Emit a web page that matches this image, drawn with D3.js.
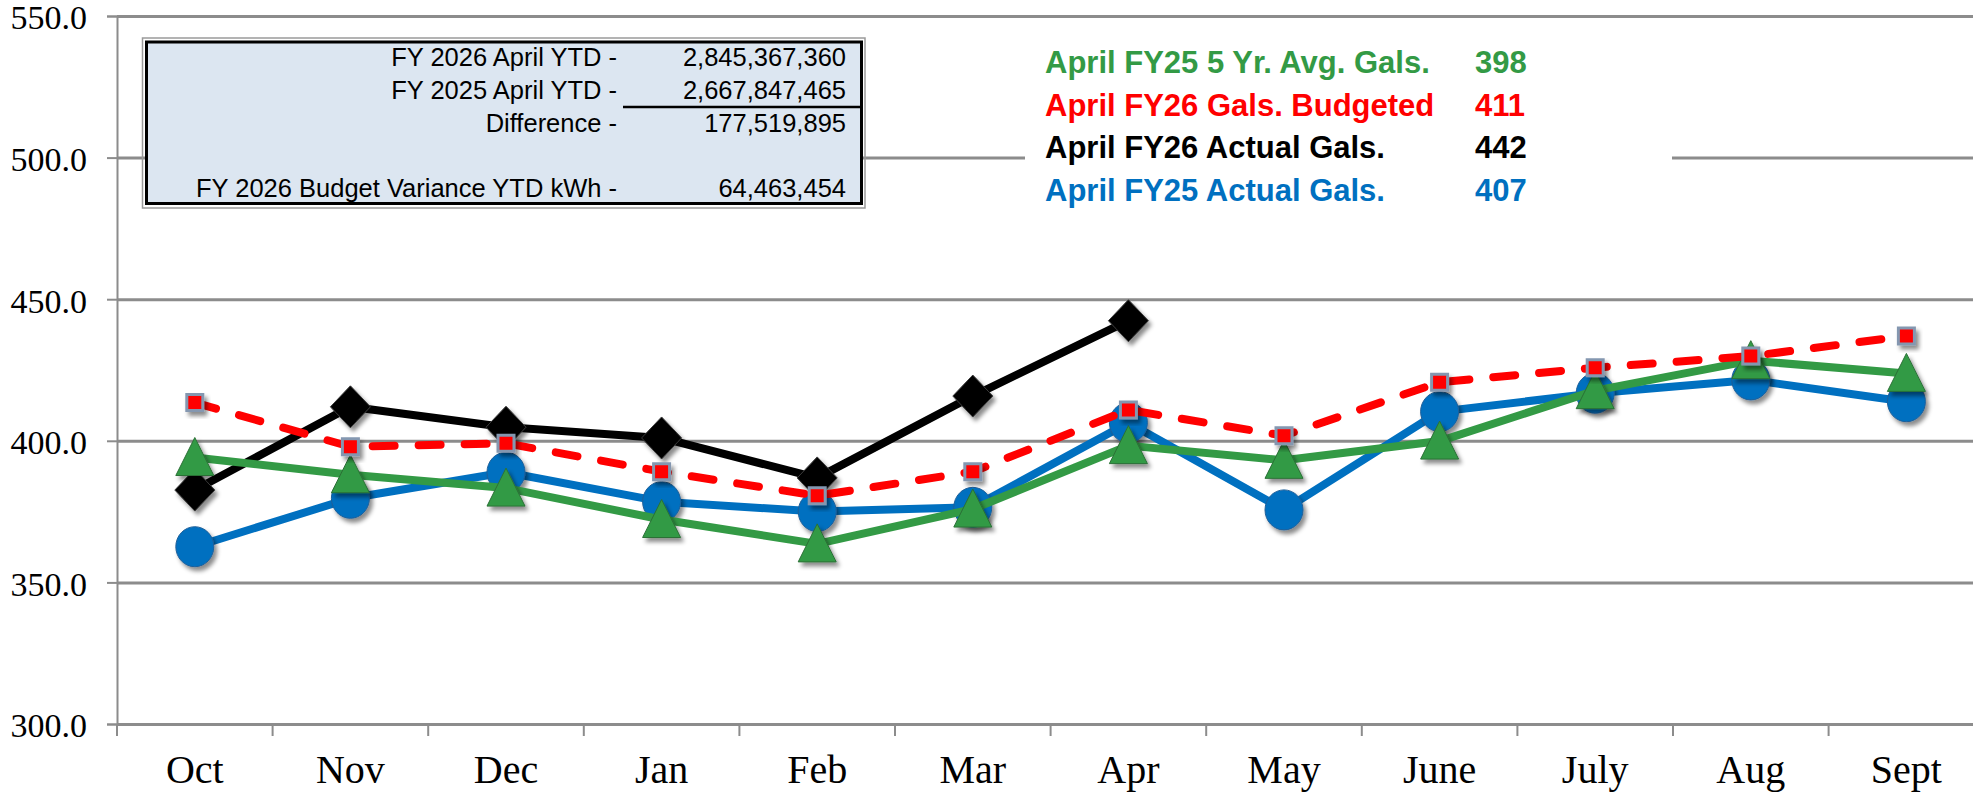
<!DOCTYPE html>
<html>
<head>
<meta charset="utf-8">
<script src="https://cdn.jsdelivr.net/npm/d3@7"></script>
<style>
    html, body { margin: 0; padding: 0; background: #fff; overflow: hidden; }
    svg { display: block; }
</style>
</head>
<body>
<div id="chart"></div>
<script>
// data
const months = ["Oct", "Nov", "Dec", "Jan", "Feb", "Mar", "Apr", "May", "June", "July", "Aug", "Sept"];
const avg5yrGals = [394.1, 388.0, 383.3, 372.2, 363.6, 375.9, 398.3, 393.1, 399.9, 417.7, 428.3, 423.8];
const budgetFY26 = [413.5, 397.9, 399.1, 389.1, 380.6, 389.1, 410.9, 401.8, 420.7, 425.8, 429.9, 437.0];
const actualFY26 = [382.6, 412.0, 404.8, 401.0, 386.9, 415.8, 442.4];
const actualFY25 = [362.6, 379.7, 388.9, 378.5, 375.0, 376.5, 406.4, 375.6, 410.3, 416.8, 421.5, 413.8];
const yTicks = [300, 350, 400, 450, 500, 550];

// YTD box rows (blank row kept as a spacer)
const boxLabels = ["FY 2026 April YTD -", "FY 2025 April YTD -", "Difference -", "", "FY 2026 Budget Variance YTD kWh -"];
const boxValues = ["2,845,367,360", "2,667,847,465", "177,519,895", "", "64,463,454"];

const legendLabels = ["April FY25 5 Yr. Avg. Gals.", "April FY26 Gals. Budgeted", "April FY26 Actual Gals.", "April FY25 Actual Gals."];
const legendValues = ["398", "411", "442", "407"];
const legendColors = ["#339a45", "#ff0000", "#000000", "#0070c0"];

const W = 1973, H = 793;
const margin = {left: 117, top: 16, bottom: 69};
const plotRight = 117 + 12 * 155.6;

const svg = d3.select("#chart").append("svg")
    .attr("width", W)
    .attr("height", H)
    .attr("viewBox", `0 0 ${W} ${H}`);

const defs = svg.append("defs");
const shadow = defs.append("filter")
    .attr("id", "shadow")
    .attr("x", "-50%").attr("y", "-50%")
    .attr("width", "200%").attr("height", "200%");
shadow.append("feDropShadow")
    .attr("dx", 3).attr("dy", 4)
    .attr("stdDeviation", 2)
    .attr("flood-color", "#000")
    .attr("flood-opacity", 0.45);

const x = d3.scaleBand()
    .domain(months)
    .range([margin.left, plotRight]);

const y = d3.scaleLinear()
    .domain([300, 550])
    .range([H - margin.bottom, margin.top]);

const cx = m => x(m) + x.bandwidth() / 2;
const serif = "'Liberation Serif', 'Times New Roman', serif";
const sans = "'Liberation Sans', Arial, sans-serif";

// gridlines
svg.append("g")
    .attr("transform", `translate(${margin.left},0)`)
    .call(d3.axisLeft(y).tickValues(yTicks).tickSize(-(W - margin.left)).tickFormat(""))
    .call(g => g.select(".domain").remove())
    .call(g => g.selectAll("line").attr("stroke", "#8c8c8c").attr("stroke-width", 3));

// y axis with labels
svg.append("g")
    .attr("transform", `translate(${margin.left},0)`)
    .call(d3.axisLeft(y).tickValues(yTicks).tickSize(10).tickPadding(20).tickFormat(d3.format(".1f")))
    .call(g => g.select(".domain").attr("stroke", "#8c8c8c").attr("stroke-width", 2))
    .call(g => g.selectAll("line").attr("stroke", "#8c8c8c").attr("stroke-width", 2))
    .call(g => g.selectAll("text")
        .attr("font-family", serif)
        .attr("font-size", 34)
        .attr("dy", "0.38em")
        .attr("fill", "#000"));

// x axis: labels at band centres, ticks at band edges
const xAxis = svg.append("g")
    .attr("transform", `translate(0,${y(300)})`)
    .call(d3.axisBottom(x).tickSize(0).tickPadding(31))
    .call(g => g.select(".domain").remove())
    .call(g => g.selectAll("text")
        .attr("font-family", serif)
        .attr("font-size", 40)
        .attr("fill", "#000"));

xAxis.selectAll("line.edge")
    .data(months)
    .enter().append("line")
    .attr("class", "edge")
    .attr("x1", d => x(d)).attr("x2", d => x(d))
    .attr("y1", 0).attr("y2", 12)
    .attr("stroke", "#8c8c8c")
    .attr("stroke-width", 2);

// YTD text box
const box = svg.append("g");
box.append("rect")
    .attr("x", 142.5).attr("y", 38)
    .attr("width", 722.5).attr("height", 170)
    .attr("fill", "none")
    .attr("stroke", "#9a9a9a")
    .attr("stroke-width", 1.5);
box.append("rect")
    .attr("x", 146.5).attr("y", 42)
    .attr("width", 715).attr("height", 161.5)
    .attr("fill", "#dce6f1")
    .attr("stroke", "#000")
    .attr("stroke-width", 3);

const rowY = i => 66 + i * 32.75;
box.selectAll("text.lbl")
    .data(boxLabels)
    .enter().append("text")
    .attr("class", "lbl")
    .attr("x", 617)
    .attr("y", (d, i) => rowY(i))
    .attr("text-anchor", "end")
    .attr("font-family", sans)
    .attr("font-size", 25.5)
    .text(d => d);
box.selectAll("text.val")
    .data(boxValues)
    .enter().append("text")
    .attr("class", "val")
    .attr("x", 846)
    .attr("y", (d, i) => rowY(i))
    .attr("text-anchor", "end")
    .attr("font-family", sans)
    .attr("font-size", 25.5)
    .text(d => d);
box.append("line")
    .attr("x1", 623).attr("x2", 861)
    .attr("y1", 107).attr("y2", 107)
    .attr("stroke", "#000")
    .attr("stroke-width", 2.5);

// legend block
const legend = svg.append("g");
legend.append("rect")
    .attr("x", 1025).attr("y", 30)
    .attr("width", 647).attr("height", 188)
    .attr("fill", "#fff");
legend.selectAll("text.lbl")
    .data(legendLabels)
    .enter().append("text")
    .attr("class", "lbl")
    .attr("x", 1045)
    .attr("y", (d, i) => 73 + i * 42.5)
    .attr("font-family", sans)
    .attr("font-weight", "bold")
    .attr("font-size", 31)
    .attr("fill", (d, i) => legendColors[i])
    .text(d => d);
legend.selectAll("text.val")
    .data(legendValues)
    .enter().append("text")
    .attr("class", "val")
    .attr("x", 1475)
    .attr("y", (d, i) => 73 + i * 42.5)
    .attr("font-family", sans)
    .attr("font-weight", "bold")
    .attr("font-size", 31)
    .attr("fill", (d, i) => legendColors[i])
    .text(d => d);

// series
const line = d3.line()
    .x((d, i) => cx(months[i]))
    .y(d => y(d));

function drawSeries(values, opts) {
    const g = svg.append("g");
    g.append("path")
        .datum(values)
        .attr("d", line)
        .attr("fill", "none")
        .attr("stroke", opts.color)
        .attr("stroke-width", 8)
        .attr("stroke-linejoin", "round")
        .attr("stroke-linecap", opts.dash ? "round" : "butt")
        .attr("stroke-dasharray", opts.dash || null);
    g.selectAll("path.marker")
        .data(values)
        .enter().append("path")
        .attr("class", "marker")
        .attr("transform", (d, i) => `translate(${cx(months[i])},${y(d)})`)
        .attr("d", opts.shape)
        .attr("fill", opts.fill)
        .attr("stroke", opts.edge)
        .attr("stroke-width", opts.edgeWidth)
        .attr("filter", "url(#shadow)");
}

const circle = "M-19,0A19,20 0 1,0 19,0A19,20 0 1,0 -19,0Z";
const triangle = "M0,-20L19,18L-19,18Z";
const diamond = "M0,-21L20,0L0,21L-20,0Z";
const square = "M-8,-8L8,-8L8,8L-8,8Z";

drawSeries(actualFY25, {color: "#0070c0", fill: "#0070c0", edge: "#1f5f99", edgeWidth: 1, shape: circle});
drawSeries(actualFY26, {color: "#000000", fill: "#000000", edge: "#3a3a3a", edgeWidth: 1, shape: diamond});
drawSeries(avg5yrGals, {color: "#339a45", fill: "#339a45", edge: "#2a7036", edgeWidth: 1, shape: triangle});
drawSeries(budgetFY26, {color: "#ff0000", fill: "#ff0000", edge: "#8497b0", edgeWidth: 3, shape: square, dash: "22,24"});
</script>
</body>
</html>
